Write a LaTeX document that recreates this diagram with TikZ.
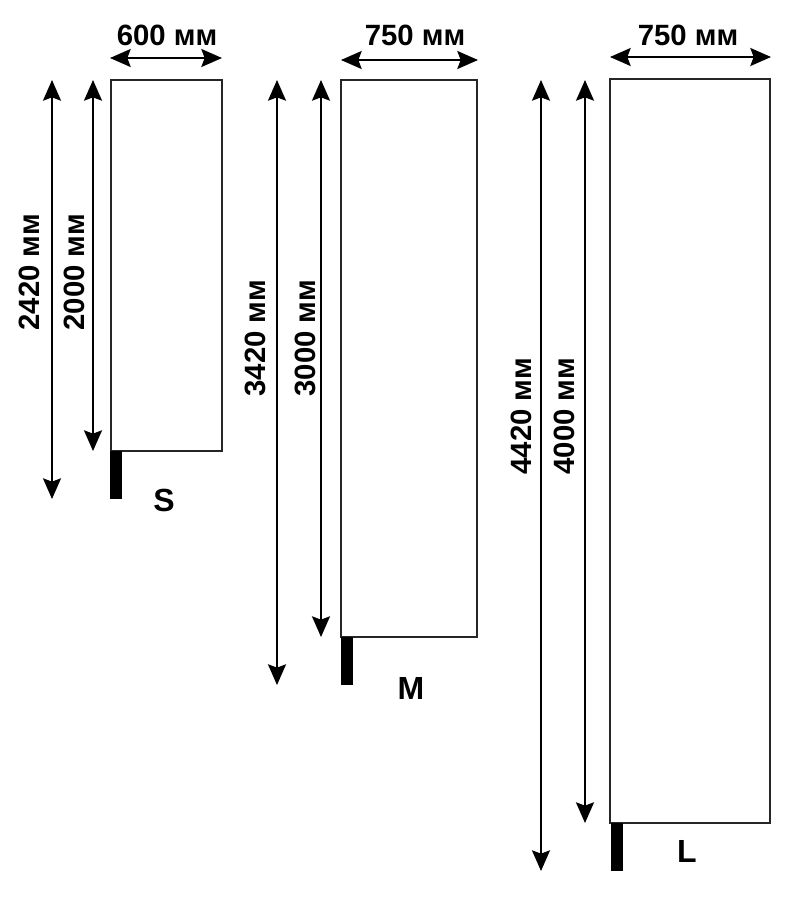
\documentclass[tikz,border=0pt]{standalone}
\usepackage{fontspec}
\setmainfont{Liberation Sans}
\usetikzlibrary{arrows.meta}
\begin{document}
\begin{tikzpicture}[x=0.75pt,y=-0.75pt,
  dimarrow/.style={line width=1.5pt,{Stealth[length=15.5pt,width=13.5pt,inset=2.5pt]}-{Stealth[length=15.5pt,width=13.5pt,inset=2.5pt]}},
  panel/.style={draw=black!85,line width=1.1pt,fill=white},
  dimlabel/.style={font=\bfseries\fontsize{22}{26}\selectfont,inner sep=0pt},
  sizelabel/.style={font=\bfseries\fontsize{24}{28}\selectfont,inner sep=0pt}]
\useasboundingbox (0,0) rectangle (803,900);
% S
\draw[panel] (111,80) rectangle (222,451);
\fill (110,451) rectangle (122,499);
\coordinate (sl) at (110,58); \coordinate (sr) at (222,58);
\coordinate (sot) at (52,80); \coordinate (sob) at (52,499);
\coordinate (sit) at (93,80); \coordinate (sib) at (93,451);
\draw[dimarrow] (sl) -- (sr);
\draw[dimarrow] (sot) -- (sob);
\draw[dimarrow] (sit) -- (sib);
\node[dimlabel] (st) at (167,35) {600 мм};
\node[dimlabel,rotate=90] (so) at (29,272) {2420 мм};
\node[dimlabel,rotate=90] (si) at (74,272) {2000 мм};
\node[sizelabel] (sn) at (164,500) {S};
% M
\draw[panel] (341,80) rectangle (477,637);
\fill (341,637) rectangle (353,685);
\coordinate (ml) at (341,60); \coordinate (mr) at (478,60);
\coordinate (mot) at (277,80); \coordinate (mob) at (277,685);
\coordinate (mit) at (321,80); \coordinate (mib) at (321,637);
\draw[dimarrow] (ml) -- (mr);
\draw[dimarrow] (mot) -- (mob);
\draw[dimarrow] (mit) -- (mib);
\node[dimlabel] (mt) at (415,35) {750 мм};
\node[dimlabel,rotate=90] (mo) at (255,338) {3420 мм};
\node[dimlabel,rotate=90] (mi) at (305,338) {3000 мм};
\node[sizelabel] (mn) at (411,688) {M};
% L
\draw[panel] (610,79) rectangle (770,823);
\fill (611,823) rectangle (623,871);
\coordinate (ll) at (610,57); \coordinate (lr) at (771,57);
\coordinate (lot) at (541,80); \coordinate (lob) at (541,871);
\coordinate (lit) at (585,80); \coordinate (lib) at (585,823);
\draw[dimarrow] (ll) -- (lr);
\draw[dimarrow] (lot) -- (lob);
\draw[dimarrow] (lit) -- (lib);
\node[dimlabel] (lt) at (688,35) {750 мм};
\node[dimlabel,rotate=90] (lo) at (521,416) {4420 мм};
\node[dimlabel,rotate=90] (li) at (564,416) {4000 мм};
\node[sizelabel] (ln) at (687,851) {L};
\end{tikzpicture}
\end{document}
